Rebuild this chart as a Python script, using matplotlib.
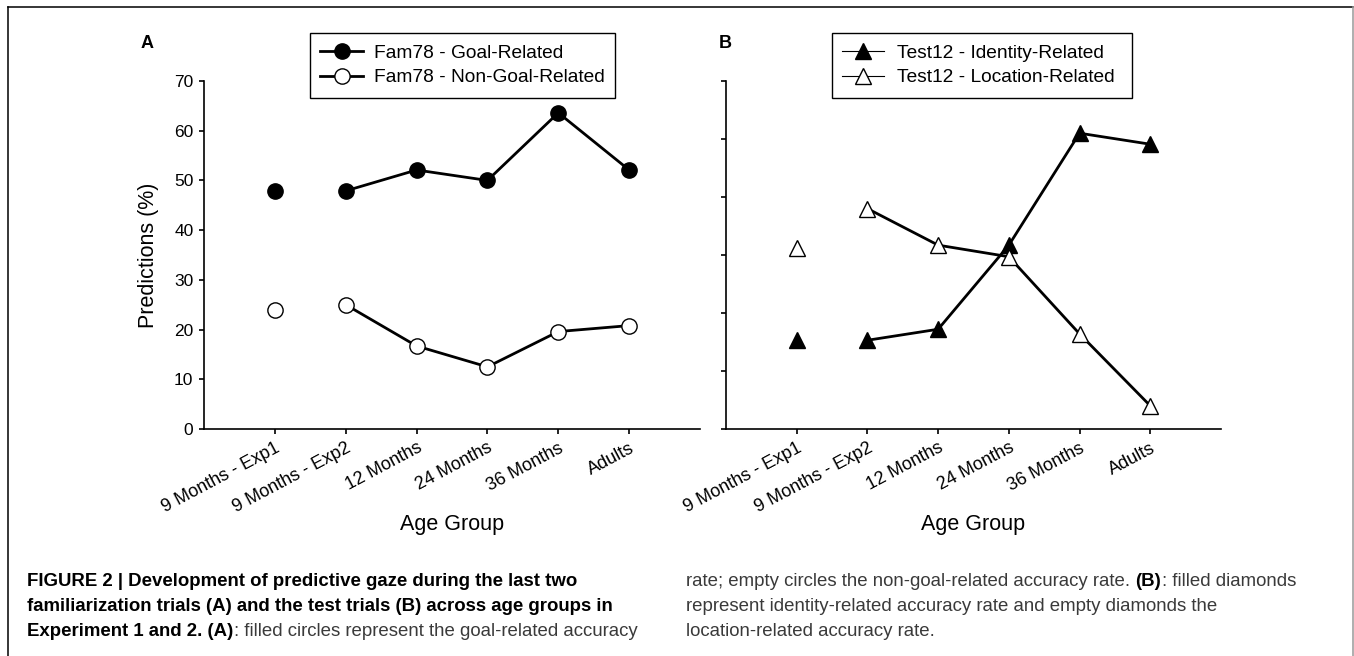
import matplotlib
matplotlib.use("Agg")
import matplotlib.pyplot as plt
from matplotlib.lines import Line2D
from matplotlib.patches import Rectangle

plt.rcParams['font.family'] = ['Liberation Sans', 'DejaVu Sans']

# values (percent of predictions)
age_groups = ["9 Months - Exp1", "9 Months - Exp2", "12 Months", "24 Months", "36 Months", "Adults"]
goal_related = [47.8, 47.9, 52.1, 50.0, 63.6, 52.1]
non_goal_related = [23.9, 25.0, 16.7, 12.5, 19.6, 20.8]
identity_related = [15.3, 15.3, 17.2, 31.7, 51.0, 49.1]
location_related = [31.2, 38.0, 31.7, 29.7, 16.4, 4.0]

W, H = 1354, 656
fig = plt.figure(figsize=(W / 100, H / 100), dpi=100)

ax_a = fig.add_axes([204 / W, 1 - 429 / H, 496 / W, 348 / H])
ax_b = fig.add_axes([726 / W, 1 - 429 / H, 495 / W, 348 / H])

xpos = list(range(1, len(age_groups) + 1))


def style_axis(ax, ymax, show_ylabels):
    ax.set_xlim(0, 7)
    ax.set_ylim(0, ymax)
    ax.spines['right'].set_visible(False)
    ax.spines['top'].set_visible(False)
    for s in ['left', 'bottom']:
        ax.spines[s].set_linewidth(1.2)
    ax.set_yticks(range(0, ymax + 1, 10))
    if not show_ylabels:
        ax.set_yticklabels([])
    ax.set_xticks(xpos)
    ax.set_xticklabels(age_groups, rotation=28, ha='right', rotation_mode='anchor', fontsize=13)
    ax.tick_params(axis='both', direction='out', length=3.6, width=1.2, pad=4)
    ax.tick_params(axis='y', labelsize=12.5)
    ax.set_xlabel('Age Group', fontsize=15.5)
    ax.xaxis.set_label_coords(0.5, -0.243)


def legend_box(x0, y0, x1, y1):
    fig.add_artist(Rectangle((x0 / W, 1 - y1 / H), (x1 - x0) / W, (y1 - y0) / H,
                             transform=fig.transFigure, fill=False, edgecolor='black', lw=1.0))


# panel A
style_axis(ax_a, 70, True)
ax_a.set_ylabel('Predictions (%)', fontsize=15.5)
ax_a.yaxis.set_label_coords(-0.091, 0.5)

circ = dict(marker='o', markersize=11, markeredgecolor='black', markeredgewidth=1.0)
ax_a.plot(xpos[:1], goal_related[:1], linestyle='none', markerfacecolor='black', **circ)
g_line, = ax_a.plot(xpos[1:], goal_related[1:], color='black', lw=2, markerfacecolor='black', **circ)
ax_a.plot(xpos[:1], non_goal_related[:1], linestyle='none', markerfacecolor='white', **circ)
ng_line, = ax_a.plot(xpos[1:], non_goal_related[1:], color='black', lw=2, markerfacecolor='white', **circ)

legend_box(310, 33, 615, 98)
ax_a.legend([g_line, ng_line], ['Fam78 - Goal-Related', 'Fam78 - Non-Goal-Related'],
            loc='center left', bbox_to_anchor=(320 / W, 1 - 65.5 / H), bbox_transform=fig.transFigure,
            frameon=False, borderaxespad=0, borderpad=0, fontsize=13.8,
            handlelength=2.25, handletextpad=0.57, labelspacing=0.35)

# panel B
style_axis(ax_b, 60, False)
tri = dict(marker='^', markersize=11, markeredgecolor='black', markeredgewidth=1.0)
ax_b.plot(xpos[:1], identity_related[:1], linestyle='none', markerfacecolor='black', **tri)
ax_b.plot(xpos[1:], identity_related[1:], color='black', lw=2, markerfacecolor='black', **tri)
ax_b.plot(xpos[:1], location_related[:1], linestyle='none', markerfacecolor='white', **tri)
ax_b.plot(xpos[1:], location_related[1:], color='black', lw=2, markerfacecolor='white', **tri)

h_id = Line2D([], [], color='black', lw=0.8, markerfacecolor='black', **tri)
h_loc = Line2D([], [], color='black', lw=0.8, markerfacecolor='white', **tri)
legend_box(832, 33, 1132, 98)
ax_b.legend([h_id, h_loc], ['Test12 - Identity-Related', 'Test12 - Location-Related'],
            loc='center left', bbox_to_anchor=(842 / W, 1 - 65.5 / H), bbox_transform=fig.transFigure,
            frameon=False, borderaxespad=0, borderpad=0, fontsize=13.8,
            handlelength=2.2, handletextpad=0.68, labelspacing=0.35)

# panel letters
fig.text(141 / W, 1 - 48 / H, 'A', fontsize=13, fontweight='bold', va='baseline')
fig.text(719 / W, 1 - 48 / H, 'B', fontsize=13, fontweight='bold', va='baseline')

# frame around the figure panel
fig.add_artist(Line2D([8 / W, 8 / W], [0, 1 - 7 / H], color='black', lw=1.1, transform=fig.transFigure))
fig.add_artist(Line2D([8 / W, 1353 / W], [1 - 7 / H, 1 - 7 / H], color='black', lw=1.1, transform=fig.transFigure))
fig.add_artist(Line2D([1353 / W, 1353 / W], [0, 1 - 7 / H], color='#999999', lw=1.1, transform=fig.transFigure))

# caption, bold and regular runs placed one after another
renderer = fig.canvas.get_renderer()
cap_size = 13.4
grey = '#3a3a3a'


def caption_line(x_px, y_px, runs):
    x = x_px
    for txt, bold, gap in runs:
        x += gap
        t = fig.text(x / W, 1 - y_px / H, txt, fontsize=cap_size, va='baseline',
                     fontweight='bold' if bold else 'normal', color='black' if bold else grey)
        bb = t.get_window_extent(renderer)
        x = bb.x1 + 1


caption_line(27, 586, [("FIGURE 2 | Development of predictive gaze during the last two", True, 0)])
caption_line(27, 611, [("familiarization trials (A) and the test trials (B) across age groups in", True, 0)])
caption_line(27, 636, [("Experiment 1 and 2. (A)", True, 0),
                       (": filled circles represent the goal-related accuracy", False, 0)])
caption_line(686, 586, [("rate; empty circles the non-goal-related accuracy rate.", False, 0),
                        ("(B)", True, 4), (": filled diamonds", False, 0)])
caption_line(686, 611, [("represent identity-related accuracy rate and empty diamonds the", False, 0)])
caption_line(686, 636, [("location-related accuracy rate.", False, 0)])

fig.savefig('out.png', dpi=100)
